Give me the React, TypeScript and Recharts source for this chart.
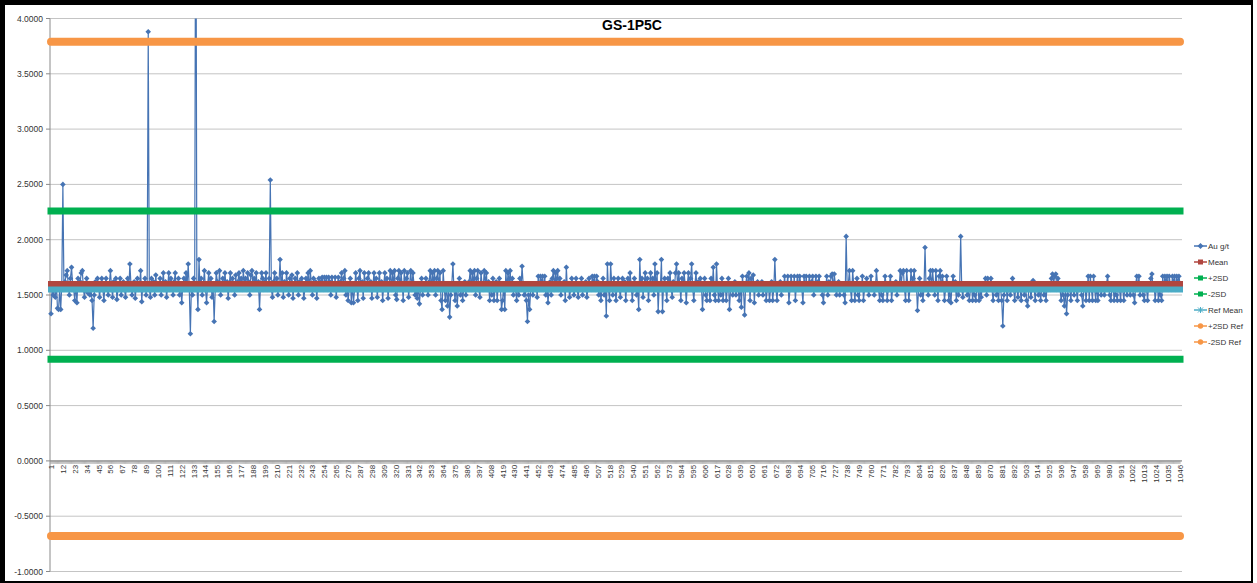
import React from 'react';
import { LineChart, Line, XAxis, YAxis, CartesianGrid, ReferenceLine, Legend } from 'recharts';

// ---- Data (Au g/t, samples 1..1046) ----
const AU_1 = [
  1.33,1.55,1.50,1.58,1.48,1.60,1.38,1.37,1.55,1.37,
  1.60,2.50,1.55,1.62,1.68,1.72,1.58,1.50,1.65,1.75,
  1.60,1.55,1.45,1.60,1.43,1.65,1.55,1.62,1.70,1.72,
  1.55,1.48,1.60,1.65,1.52,1.60,1.50,1.55,1.45,1.20,
  1.50,1.62,1.55,1.65,1.58,1.48,1.60,1.65,1.55,1.45,
  1.60,1.65,1.55,1.50,1.60,1.72,1.58,1.48,1.62,1.55,
  1.65,1.46,1.55,1.60,1.65,1.50,1.58,1.62,1.55,1.48,
  1.60,1.65,1.55,1.78,1.60,1.50,1.55,1.62,1.47,1.58,
  1.65,1.55,1.60,1.72,1.44,1.60,1.55,1.65,1.50,1.60,
  3.88,1.55,1.48,1.65,1.58,1.62,1.50,1.68,1.55,1.60,
];
const AU_2 = [
  1.55,1.65,1.50,1.60,1.70,1.55,1.62,1.48,1.58,1.70,
  1.55,1.65,1.60,1.50,1.62,1.70,1.55,1.58,1.65,1.50,
  1.60,1.43,1.58,1.65,1.55,1.70,1.60,1.78,1.55,1.15,
  1.60,1.50,1.65,1.55,6.00,1.60,1.37,1.82,1.55,1.65,
  1.50,1.60,1.72,1.55,1.43,1.60,1.70,1.55,1.65,1.48,
  1.60,1.26,1.55,1.70,1.62,1.55,1.72,1.50,1.60,1.65,
  1.55,1.70,1.58,1.62,1.47,1.60,1.70,1.55,1.65,1.60,
  1.50,1.68,1.55,1.62,1.70,1.58,1.65,1.55,1.72,1.60,
  1.65,1.55,1.70,1.62,1.50,1.68,1.72,1.55,1.65,1.60,
  1.70,1.55,1.62,1.37,1.60,1.70,1.65,1.55,1.62,1.70,
];
const AU_3 = [
  1.55,1.60,1.65,2.54,1.55,1.48,1.62,1.70,1.55,1.65,
  1.50,1.60,1.82,1.55,1.70,1.48,1.62,1.55,1.70,1.60,
  1.50,1.65,1.55,1.68,1.47,1.60,1.65,1.55,1.70,1.50,
  1.62,1.55,1.65,1.60,1.47,1.55,1.65,1.60,1.70,1.55,
  1.72,1.60,1.50,1.65,1.55,1.62,1.47,1.60,1.65,1.55,
  1.62,1.66,1.55,1.66,1.60,1.66,1.55,1.66,1.62,1.50,
  1.66,1.60,1.55,1.66,1.48,1.60,1.66,1.55,1.62,1.70,
  1.55,1.65,1.72,1.50,1.60,1.45,1.55,1.65,1.43,1.60,
  1.43,1.55,1.70,1.60,1.45,1.65,1.72,1.55,1.62,1.47,
  1.70,1.60,1.55,1.65,1.70,1.55,1.62,1.47,1.60,1.70,
];
const AU_4 = [
  1.55,1.65,1.48,1.60,1.70,1.55,1.62,1.45,1.60,1.70,
  1.55,1.65,1.47,1.60,1.72,1.55,1.70,1.60,1.72,1.50,
  1.46,1.65,1.72,1.55,1.70,1.60,1.45,1.72,1.55,1.65,
  1.70,1.48,1.60,1.72,1.55,1.70,1.60,1.50,1.55,1.47,
  1.60,1.42,1.55,1.65,1.50,1.60,1.55,1.65,1.58,1.50,
  1.62,1.72,1.55,1.70,1.60,1.72,1.50,1.65,1.72,1.55,
  1.70,1.45,1.37,1.72,1.55,1.45,1.60,1.40,1.55,1.30,
  1.50,1.60,1.78,1.55,1.45,1.60,1.40,1.55,1.65,1.50,
  1.60,1.45,1.55,1.62,1.50,1.58,1.55,1.62,1.72,1.55,
  1.70,1.60,1.72,1.50,1.65,1.72,1.55,1.48,1.70,1.60,
];
const AU_5 = [
  1.55,1.72,1.60,1.70,1.55,1.62,1.45,1.60,1.50,1.65,
  1.45,1.55,1.62,1.45,1.60,1.65,1.55,1.37,1.45,1.60,
  1.37,1.72,1.55,1.70,1.60,1.72,1.55,1.65,1.50,1.60,
  1.55,1.45,1.60,1.50,1.65,1.55,1.76,1.60,1.50,1.55,
  1.45,1.26,1.50,1.37,1.55,1.60,1.50,1.58,1.55,1.60,
  1.48,1.67,1.55,1.67,1.60,1.67,1.55,1.67,1.50,1.60,
  1.43,1.55,1.62,1.50,1.65,1.72,1.55,1.70,1.60,1.72,
  1.55,1.65,1.50,1.60,1.55,1.62,1.45,1.75,1.55,1.60,
  1.48,1.55,1.65,1.60,1.50,1.55,1.65,1.55,1.48,1.60,
  1.55,1.65,1.50,1.60,1.55,1.62,1.48,1.55,1.65,1.60,
];
const AU_6 = [
  1.55,1.67,1.60,1.67,1.55,1.67,1.62,1.50,1.60,1.45,
  1.55,1.65,1.50,1.60,1.31,1.78,1.55,1.45,1.78,1.60,
  1.50,1.65,1.55,1.45,1.60,1.65,1.55,1.48,1.60,1.65,
  1.55,1.62,1.45,1.60,1.65,1.55,1.70,1.60,1.45,1.55,
  1.65,1.60,1.50,1.55,1.37,1.82,1.55,1.65,1.48,1.60,
  1.70,1.55,1.65,1.45,1.60,1.70,1.55,1.65,1.50,1.78,
  1.55,1.70,1.35,1.60,1.55,1.82,1.35,1.60,1.65,1.55,
  1.45,1.65,1.60,1.70,1.55,1.48,1.62,1.55,1.70,1.78,
  1.55,1.70,1.60,1.45,1.65,1.55,1.70,1.60,1.43,1.60,
  1.70,1.55,1.65,1.78,1.55,1.45,1.60,1.70,1.55,1.62,
];
const AU_7 = [
  1.55,1.65,1.60,1.37,1.55,1.65,1.50,1.45,1.60,1.55,
  1.45,1.65,1.55,1.75,1.50,1.45,1.78,1.55,1.45,1.60,
  1.50,1.65,1.45,1.55,1.60,1.45,1.55,1.65,1.37,1.55,
  1.60,1.50,1.55,1.62,1.50,1.58,1.55,1.45,1.60,1.39,
  1.67,1.55,1.32,1.60,1.67,1.55,1.70,1.45,1.65,1.55,
  1.68,1.43,1.60,1.55,1.62,1.50,1.58,1.55,1.62,1.50,
  1.55,1.60,1.45,1.55,1.60,1.45,1.55,1.62,1.45,1.55,
  1.82,1.55,1.45,1.60,1.55,1.62,1.50,1.58,1.55,1.67,
  1.55,1.60,1.67,1.43,1.55,1.67,1.60,1.55,1.67,1.45,
  1.60,1.67,1.55,1.67,1.60,1.55,1.43,1.67,1.55,1.67,
];
const AU_8 = [
  1.55,1.60,1.67,1.55,1.62,1.67,1.50,1.60,1.67,1.55,
  1.62,1.67,1.55,1.60,1.50,1.43,1.60,1.55,1.67,1.50,
  1.62,1.55,1.67,1.69,1.55,1.69,1.60,1.50,1.55,1.62,
  1.50,1.58,1.55,1.60,1.50,1.43,2.03,1.55,1.60,1.72,
  1.55,1.45,1.72,1.60,1.45,1.55,1.65,1.50,1.45,1.60,
  1.55,1.67,1.45,1.55,1.60,1.65,1.55,1.50,1.60,1.67,
  1.55,1.60,1.50,1.55,1.72,1.60,1.55,1.45,1.60,1.50,
  1.45,1.55,1.67,1.60,1.45,1.55,1.60,1.67,1.45,1.55,
  1.60,1.55,1.62,1.50,1.58,1.55,1.72,1.60,1.70,1.72,
  1.55,1.45,1.72,1.60,1.45,1.55,1.72,1.60,1.65,1.72,
];
const AU_9 = [
  1.55,1.60,1.36,1.55,1.65,1.50,1.60,1.45,1.55,1.93,
  1.55,1.60,1.50,1.65,1.72,1.55,1.72,1.60,1.50,1.72,
  1.60,1.45,1.67,1.72,1.55,1.67,1.60,1.45,1.55,1.67,
  1.60,1.45,1.55,1.43,1.60,1.67,1.55,1.62,1.45,1.60,
  1.50,1.55,2.03,1.55,1.48,1.60,1.55,1.60,1.50,1.55,
  1.45,1.55,1.60,1.45,1.55,1.50,1.45,1.58,1.55,1.45,
  1.55,1.48,1.58,1.55,1.60,1.65,1.50,1.65,1.55,1.60,
  1.65,1.55,1.45,1.55,1.60,1.50,1.55,1.45,1.58,1.55,
  1.45,1.22,1.50,1.55,1.60,1.45,1.55,1.58,1.50,1.55,
  1.65,1.55,1.45,1.58,1.55,1.48,1.60,1.55,1.45,1.58,
];
const AU_10 = [
  1.55,1.50,1.60,1.45,1.40,1.55,1.58,1.48,1.55,1.63,
  1.55,1.45,1.58,1.55,1.50,1.58,1.45,1.55,1.60,1.50,
  1.55,1.45,1.58,1.55,1.60,1.55,1.65,1.69,1.60,1.67,
  1.69,1.55,1.65,1.60,1.55,1.45,1.55,1.50,1.40,1.55,
  1.33,1.50,1.58,1.55,1.45,1.60,1.55,1.50,1.58,1.55,
  1.45,1.60,1.55,1.60,1.50,1.40,1.55,1.60,1.45,1.55,
  1.67,1.45,1.67,1.55,1.45,1.67,1.55,1.45,1.60,1.45,
  1.55,1.60,1.50,1.55,1.60,1.50,1.55,1.60,1.67,1.55,
  1.50,1.45,1.55,1.60,1.45,1.55,1.50,1.45,1.58,1.55,
  1.45,1.60,1.55,1.45,1.58,1.55,1.50,1.60,1.55,1.50,
];
const AU_11 = [
  1.58,1.55,1.50,1.43,1.60,1.67,1.55,1.67,1.50,1.60,
  1.55,1.50,1.45,1.58,1.55,1.45,1.60,1.55,1.65,1.69,
  1.55,1.60,1.45,1.55,1.60,1.45,1.55,1.50,1.45,1.67,
  1.55,1.67,1.60,1.67,1.55,1.67,1.60,1.55,1.67,1.60,
  1.67,1.55,1.67,1.60,1.67,1.60,
];

const MEAN = 1.60;
const PLUS_2SD = 2.26;
const MINUS_2SD = 0.92;
const REF_MEAN = 1.55;
const PLUS_2SD_REF = 3.79;
const MINUS_2SD_REF = -0.68;

const Y_TICKS = [-1, -0.5, 0, 0.5, 1, 1.5, 2, 2.5, 3, 3.5, 4];
const TITLE = 'GS-1P5C';
const SERIES_NAMES = ['Au g/t', 'Mean', '+2SD', '-2SD', 'Ref Mean', '+2SD Ref', '-2SD Ref'];
const LABEL_STEP = 11;

// ---- Styling / geometry ----
const W = 1257;
const H = 583;
const Y_MIN = -1;
const Y_MAX = 4;
const LEGEND_W = 62;
const MARGIN = { top: 18.5, right: 13, bottom: 10.5, left: 0 };
const OVERLAY_MARGIN = { top: 18.5, right: 13 + LEGEND_W, bottom: 10.5, left: 0 };
const X_AXIS_H = 1;
const Y_AXIS_W = 50;
const X_PAD = { left: 1, right: 2 };
const PLOT_H = H - MARGIN.top - MARGIN.bottom - X_AXIS_H;
const ZERO_Y = MARGIN.top + (PLOT_H * (Y_MAX - 0)) / (Y_MAX - Y_MIN);

const COLORS = {
  au: '#4674B4',
  mean: '#B0463F',
  sd: '#00B050',
  ref: '#4BACC6',
  refSd: '#F79646',
};
const FONT = '"Liberation Sans", Arial, sans-serif';

const auValues = [...AU_1, ...AU_2, ...AU_3, ...AU_4, ...AU_5, ...AU_6, ...AU_7, ...AU_8, ...AU_9, ...AU_10, ...AU_11];

const data = auValues.map((v, i) => ({
  cat: String(i + 1),
  au: v,
  mean: MEAN,
  p2sd: PLUS_2SD,
  m2sd: MINUS_2SD,
  refMean: REF_MEAN,
  p2sdRef: PLUS_2SD_REF,
  m2sdRef: MINUS_2SD_REF,
}));

const Diamond = (props: any) => {
  const { cx, cy, index } = props;
  if (cx == null || cy == null) return <g key={`d${index}`} />;
  const r = 2.8;
  return (
    <polygon
      key={`d${index}`}
      points={`${cx},${cy - r} ${cx + r},${cy} ${cx},${cy + r} ${cx - r},${cy}`}
      fill={COLORS.au}
      stroke="none"
    />
  );
};

const XTick = (props: any) => {
  const { x, index, payload } = props;
  return (
    <g>
      <line x1={x} x2={x} y1={ZERO_Y} y2={ZERO_Y + 3} stroke="#8a8a8a" strokeWidth={0.6} />
      {index % LABEL_STEP === 0 && (
        <text
          transform={`translate(${x + 3},${ZERO_Y + 4}) rotate(-90)`}
          textAnchor="end"
          fontSize={8}
          fontFamily={FONT}
          fill="#333"
        >
          {payload.value}
        </text>
      )}
    </g>
  );
};

const LEGEND_STYLE = [
  { color: COLORS.au, marker: 'diamond' },
  { color: COLORS.mean, marker: 'square' },
  { color: COLORS.sd, marker: 'square' },
  { color: COLORS.sd, marker: 'square' },
  { color: COLORS.ref, marker: 'star' },
  { color: COLORS.refSd, marker: 'circle' },
  { color: COLORS.refSd, marker: 'circle' },
];

const LegendIcon = ({ color, marker }: { color: string; marker: string }) => (
  <svg width={13} height={10} style={{ display: 'block' }}>
    <line x1={0} x2={13} y1={5} y2={5} stroke={color} strokeWidth={1.5} />
    {marker === 'diamond' && <polygon points="6.5,2 9.5,5 6.5,8 3.5,5" fill={color} />}
    {marker === 'square' && <rect x={4} y={2.5} width={5} height={5} fill={color} />}
    {marker === 'circle' && <circle cx={6.5} cy={5} r={2.7} fill={color} />}
    {marker === 'star' && (
      <g stroke={color} strokeWidth={1}>
        <line x1={4} x2={9} y1={2.5} y2={7.5} />
        <line x1={4} x2={9} y1={7.5} y2={2.5} />
        <line x1={6.5} x2={6.5} y1={2} y2={8} />
      </g>
    )}
  </svg>
);

const LegendContent = () => (
  <div style={{ paddingLeft: 12 }}>
    {SERIES_NAMES.map((name, i) => (
      <div key={name} style={{ display: 'flex', alignItems: 'center', height: 16 }}>
        <LegendIcon color={LEGEND_STYLE[i].color} marker={LEGEND_STYLE[i].marker} />
        <span style={{ fontFamily: FONT, fontSize: 8, color: '#333', marginLeft: 1, whiteSpace: 'nowrap' }}>{name}</span>
      </div>
    ))}
  </div>
);

const bandProps = {
  dot: false as const,
  activeDot: false as const,
  isAnimationActive: false,
};

export default function App() {
  return (
    <div style={{ position: 'absolute', left: 0, top: 0, width: W, height: H, background: '#fff', overflow: 'hidden' }}>
      {/* Base chart: grid, axes, legend and the Au g/t series */}
      <div style={{ position: 'absolute', left: 0, top: 0 }}>
        <LineChart width={W} height={H} data={data} margin={MARGIN}>
          <CartesianGrid vertical={false} stroke="#c4c4c4" strokeWidth={1} />
          <XAxis
            dataKey="cat"
            height={X_AXIS_H}
            interval={0}
            axisLine={false}
            tickLine={false}
            tickSize={0}
            tickMargin={0}
            padding={X_PAD}
            tick={<XTick />}
          />
          <YAxis
            type="number"
            domain={[Y_MIN, Y_MAX]}
            ticks={Y_TICKS}
            allowDataOverflow
            width={Y_AXIS_W}
            interval={0}
            tickFormatter={(v: number) => v.toFixed(4)}
            axisLine={{ stroke: '#8a8a8a' }}
            tickLine={{ stroke: '#8a8a8a' }}
            tickSize={4}
            tickMargin={3}
            tick={{ fontSize: 8.5, fontFamily: FONT, fill: '#333' }}
          />
          <ReferenceLine y={0} stroke="#8a8a8a" strokeWidth={1} />
          <Legend
            layout="vertical"
            align="right"
            verticalAlign="middle"
            width={LEGEND_W}
            wrapperStyle={{ top: 238 }}
            content={<LegendContent />}
          />
          <Line
            name={SERIES_NAMES[0]}
            dataKey="au"
            stroke={COLORS.au}
            strokeWidth={1.2}
            dot={Diamond}
            activeDot={false}
            isAnimationActive={false}
          />
        </LineChart>
      </div>
      {/* Overlay chart: the statistic bands, drawn above the Au g/t markers */}
      <div style={{ position: 'absolute', left: 0, top: 0, pointerEvents: 'none' }}>
        <LineChart width={W} height={H} data={data} margin={OVERLAY_MARGIN}>
          <XAxis dataKey="cat" height={X_AXIS_H} axisLine={false} tickLine={false} tick={false} padding={X_PAD} />
          <YAxis type="number" domain={[Y_MIN, Y_MAX]} allowDataOverflow width={Y_AXIS_W} axisLine={false} tickLine={false} tick={false} />
          <Line name={SERIES_NAMES[1]} dataKey="mean" stroke={COLORS.mean} strokeWidth={6} strokeLinecap="square" {...bandProps} />
          <Line name={SERIES_NAMES[2]} dataKey="p2sd" stroke={COLORS.sd} strokeWidth={7} strokeLinecap="square" {...bandProps} />
          <Line name={SERIES_NAMES[3]} dataKey="m2sd" stroke={COLORS.sd} strokeWidth={7} strokeLinecap="square" {...bandProps} />
          <Line name={SERIES_NAMES[4]} dataKey="refMean" stroke={COLORS.ref} strokeWidth={6} strokeLinecap="square" {...bandProps} />
          <Line name={SERIES_NAMES[5]} dataKey="p2sdRef" stroke={COLORS.refSd} strokeWidth={8} strokeLinecap="round" {...bandProps} />
          <Line name={SERIES_NAMES[6]} dataKey="m2sdRef" stroke={COLORS.refSd} strokeWidth={8} strokeLinecap="round" {...bandProps} />
        </LineChart>
      </div>
      <div
        style={{
          position: 'absolute',
          left: 532,
          width: 200,
          top: 17,
          textAlign: 'center',
          fontFamily: FONT,
          fontWeight: 'bold',
          fontSize: 14,
          lineHeight: '16px',
          color: '#000',
        }}
      >
        {TITLE}
      </div>
      <div
        style={{
          position: 'absolute',
          left: 0,
          top: 0,
          width: 1253,
          height: 583,
          boxSizing: 'border-box',
          borderLeft: '5px solid #000',
          borderTop: '5px solid #000',
          borderRight: '2px solid #000',
          borderBottom: '2px solid #000',
          pointerEvents: 'none',
        }}
      />
    </div>
  );
}
